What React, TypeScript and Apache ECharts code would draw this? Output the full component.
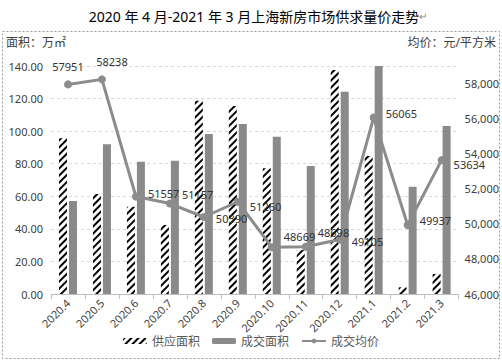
import React, { useEffect, useRef } from "react";
import * as echarts from "echarts";

const categories = ["2020.4", "2020.5", "2020.6", "2020.7", "2020.8", "2020.9", "2020.10", "2020.11", "2020.12", "2021.1", "2021.2", "2021.3"];
const supplyArea = [95.6, 61.4, 53.6, 42.4, 118.7, 115.4, 77.2, 27.0, 137.5, 84.7, 4.1, 12.3];
const dealArea = [57.1, 91.9, 81.2, 81.8, 98.2, 104.4, 96.6, 78.6, 124.2, 140.0, 65.9, 103.1];
const avgPrice = [57951, 58238, 51557, 51157, 50390, 51260, 48669, 48698, 49105, 56065, 49937, 53634];
const labelOffsets: [number, number][] = [
  [0, 0], [10, 0], [0, -3], [0, -9], [0, 1], [0, 5], [0, -11], [0, -14], [0, 2], [0, -4], [0, -4], [0, 4],
];
const labelPositions = ["top", "top", "right", "right", "right", "right", "right", "right", "right", "right", "right", "right"];

const FONT = "'Noto Sans', 'Noto Sans CJK SC', sans-serif";

export default function App() {
  const ref = useRef<HTMLDivElement>(null);
  useEffect(() => {
    if (!ref.current) return;
    const chart = echarts.init(ref.current, null, { renderer: "svg" });
    chart.setOption({
      animation: false,
      backgroundColor: "#fff",
      textStyle: { fontFamily: FONT },
      title: {
        text: "2020 年 4 月-2021 年 3 月上海新房市场供求量价走势{r|↵}",
        left: 253,
        textAlign: "center",
        top: 4,
        textStyle: {
          fontSize: 14,
          fontWeight: "normal",
          color: "#000",
          fontFamily: FONT,
          rich: { r: { fontSize: 10, color: "#888", fontFamily: FONT } },
        },
      },
      graphic: [
        {
          type: "rect",
          shape: { x: 2.5, y: 31.5, width: 497, height: 327 },
          style: { fill: "none", stroke: "#9a9a9a", lineWidth: 1, lineDash: [2, 2] },
          silent: true,
        },
        {
          type: "text",
          left: 6,
          top: 36,
          style: { text: "面积：万㎡", fontSize: 12, fill: "#404040", fontFamily: FONT },
        },
        {
          type: "text",
          right: 6,
          top: 36,
          style: { text: "均价：元/平方米", fontSize: 12, fill: "#404040", fontFamily: FONT },
        },
      ],
      grid: { left: 51, right: 41, top: 66, bottom: 69 },
      legend: {
        bottom: 11,
        left: "center",
        itemWidth: 24,
        itemHeight: 6,
        itemGap: 12,
        textStyle: { fontSize: 12, color: "#595959", fontFamily: FONT },
        data: ["供应面积", "成交面积", "成交均价"],
      },
      xAxis: {
        type: "category",
        data: categories,
        axisLine: { lineStyle: { color: "#bfbfbf" } },
        axisTick: { show: true, length: 5, lineStyle: { color: "#bfbfbf" } },
        axisLabel: { rotate: 45, fontSize: 11, color: "#404040", margin: 7, interval: 0 },
      },
      yAxis: [
        {
          type: "value",
          min: 0,
          max: 140,
          interval: 20,
          axisLine: { show: false },
          axisTick: { show: false },
          axisLabel: { fontSize: 11, color: "#404040", formatter: (v: number) => v.toFixed(2), margin: 8 },
          splitLine: { lineStyle: { color: "#d9d9d9", type: [3, 3] } },
        },
        {
          type: "value",
          min: 46000,
          max: 59000,
          interval: 2000,
          axisLine: { show: false },
          axisTick: { show: false },
          axisLabel: { fontSize: 11, color: "#404040", showMaxLabel: false, margin: 6 },
          splitLine: { show: false },
        },
      ],
      series: [
        {
          name: "供应面积",
          type: "bar",
          data: supplyArea,
          barWidth: 8,
          barGap: "25%",
          itemStyle: {
            color: "#fff",
            decal: {
              symbol: "rect",
              symbolSize: 1,
              dashArrayX: [1, 0],
              dashArrayY: [2, 2.3],
              rotation: -Math.PI / 4,
              color: "#000",
            },
          },
        },
        {
          name: "成交面积",
          type: "bar",
          data: dealArea,
          barWidth: 8,
          itemStyle: { color: "#8a8a8a" },
        },
        {
          name: "成交均价",
          type: "line",
          yAxisIndex: 1,
          data: avgPrice.map((v, i) => ({
            value: v,
            label: { position: labelPositions[i], offset: labelOffsets[i] },
          })),
          symbol: "circle",
          symbolSize: 8,
          lineStyle: { color: "#8c8c8c", width: 3 },
          itemStyle: { color: "#8c8c8c" },
          label: { show: true, fontSize: 11, color: "#333", distance: 8 },
          z: 5,
        },
      ],
    });
    return () => chart.dispose();
  }, []);
  return <div ref={ref} style={{ position: "absolute", left: 0, top: 0, width: 502, height: 363 }} />;
}
